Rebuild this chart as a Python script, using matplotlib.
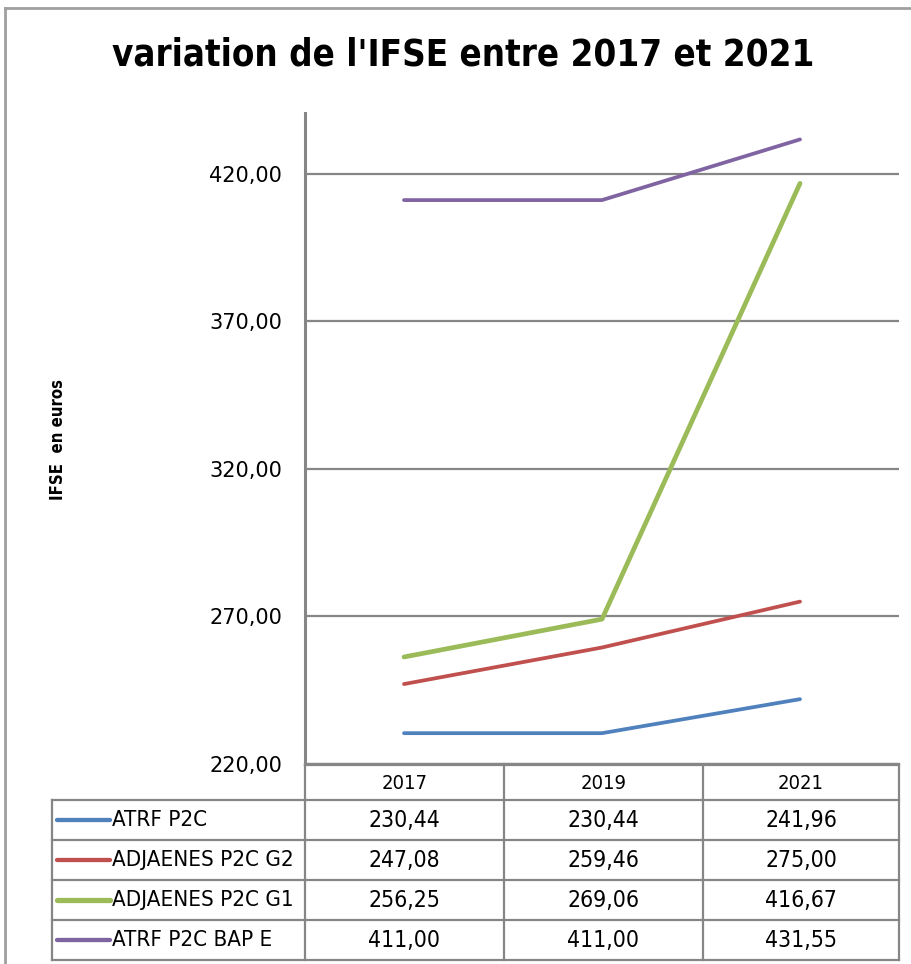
import matplotlib.pyplot as plt
from matplotlib.lines import Line2D

# data
years = ["2017", "2019", "2021"]
series = ["ATRF P2C", "ADJAENES P2C G2", "ADJAENES P2C G1", "ATRF P2C BAP E"]
atrf = [230.44, 230.44, 241.96]
adj_g2 = [247.08, 259.46, 275.00]
adj_g1 = [256.25, 269.06, 416.67]
atrf_bap = [411.00, 411.00, 431.55]
values = [atrf, adj_g2, adj_g1, atrf_bap]
colors = ["#4F81BD", "#C0504D", "#9BBB59", "#8064A2"]
widths = [2.7, 2.7, 3.4, 2.7]
yticks = [220, 270, 320, 370, 420]

W, H = 912, 964
fig = plt.figure(figsize=(W / 100, H / 100), dpi=100)

GRAY = "#868686"
COND = dict(family="DejaVu Sans", fontstretch="condensed")


def fmt(v):
    return f"{v:.2f}".replace(".", ",")


# main plot area
ax_left, ax_right, ax_top, ax_bot = 305, 899, 113, 764
ax = fig.add_axes([ax_left / W, 1 - ax_bot / H, (ax_right - ax_left) / W, (ax_bot - ax_top) / H])
ax.set_xlim(-0.5, 2.5)
ax.set_ylim(220, 440.5)
ax.set_yticks(yticks)
ax.set_yticklabels([fmt(v) for v in yticks], fontsize=15, family="DejaVu Sans")
ax.tick_params(axis="y", length=0, pad=16.5)
ax.set_xticks([])
ax.grid(axis="y", color=GRAY, linewidth=1.6)
ax.set_axisbelow(True)
for s in ["top", "right"]:
    ax.spines[s].set_visible(False)
ax.spines["left"].set_color(GRAY)
ax.spines["left"].set_linewidth(2.2)
ax.spines["bottom"].set_color(GRAY)
ax.spines["bottom"].set_linewidth(1.6)

x = range(len(years))
for vals, c, lw in zip(values, colors, widths):
    ax.plot(x, vals, color=c, linewidth=lw, solid_capstyle="round", clip_on=False)

# overlay in pixel coordinates for frame, title and table
ov = fig.add_axes([0, 0, 1, 1], zorder=-1)
ov.set_xlim(0, W)
ov.set_ylim(H, 0)
ov.axis("off")

ov.add_line(Line2D([5, W], [8, 8], color="#a0a0a0", lw=2))
ov.add_line(Line2D([5, 5], [8, H], color="#a0a0a0", lw=2))

ov.text(463, 55, "variation de l'IFSE entre 2017 et 2021", ha="center", va="center",
        fontsize=26.3, fontweight="bold", **COND)
ov.text(58, 440, "IFSE  en euros", rotation=90, ha="center", va="center",
        fontsize=12, fontweight="bold", **COND)

# table
col_edges = [52, 305, 504, 703, 899]
row_edges = [765, 800, 840, 880, 920, 960]
tab_kw = dict(color=GRAY, lw=1.6)
ov.add_line(Line2D([col_edges[1], col_edges[-1]], [row_edges[0]] * 2, **tab_kw))
for yy in row_edges[1:]:
    ov.add_line(Line2D([col_edges[0], col_edges[-1]], [yy] * 2, **tab_kw))
ov.add_line(Line2D([col_edges[0]] * 2, [row_edges[1], row_edges[-1]], **tab_kw))
for xx in col_edges[1:]:
    ov.add_line(Line2D([xx] * 2, [row_edges[0], row_edges[-1]], **tab_kw))

for j, yr in enumerate(years):
    cx = (col_edges[j + 1] + col_edges[j + 2]) / 2
    ov.text(cx, (row_edges[0] + row_edges[1]) / 2 + 1, yr, ha="center", va="center",
            fontsize=14.5, **COND)

for i, (name, vals, c, lw) in enumerate(zip(series, values, colors, widths)):
    cy = (row_edges[i + 1] + row_edges[i + 2]) / 2
    ov.add_line(Line2D([57, 110], [cy, cy], color=c, lw=lw + 0.4, solid_capstyle="round"))
    ov.text(112, cy, name, ha="left", va="center", fontsize=16, **COND)
    for j, v in enumerate(vals):
        cx = (col_edges[j + 1] + col_edges[j + 2]) / 2
        ov.text(cx, cy + 1, fmt(v), ha="center", va="center", fontsize=16.5, **COND)

fig.savefig("out.png", dpi=100)
